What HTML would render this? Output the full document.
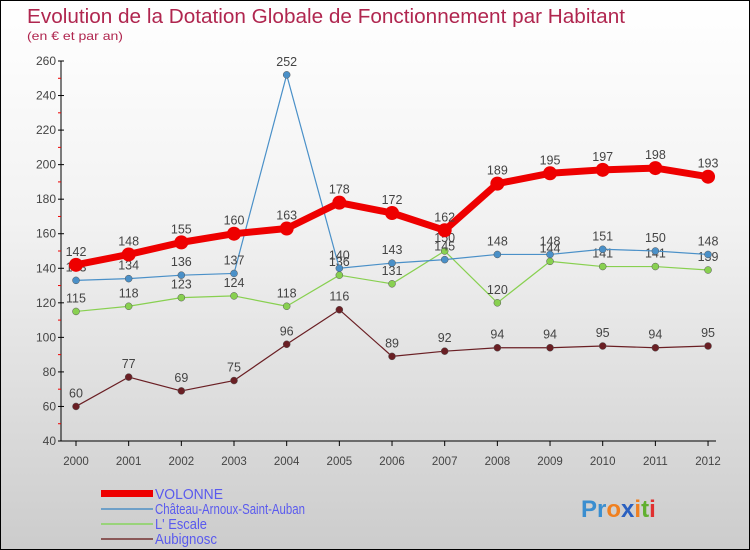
<!DOCTYPE html>
<html><head><meta charset="utf-8"><style>
body{margin:0}
#c{width:748px;height:548px;border:1px solid #000;background:linear-gradient(#fff,#f2f2f2 40%,#ccc);position:relative;overflow:hidden;font-family:"Liberation Sans",sans-serif}
</style></head><body>
<div id="c">
<svg id="s" width="748" height="548" style="position:absolute;left:0;top:0" font-family="Liberation Sans, sans-serif">
<text x="26" y="22" font-size="20" fill="#b0264f" textLength="598" lengthAdjust="spacingAndGlyphs">Evolution de la Dotation Globale de Fonctionnement par Habitant</text>
<text x="26" y="39" font-size="12" fill="#b0264f" textLength="96" lengthAdjust="spacingAndGlyphs">(en € et par an)</text>
<g id="ax"></g><g id="ser"></g>
<g>
<rect x="100" y="489" width="52" height="7" fill="#e00"/>
<line x1="100" y1="508" x2="152" y2="508" stroke="#6fa0c8" stroke-width="2"/>
<line x1="100" y1="523" x2="152" y2="523" stroke="#99d37a" stroke-width="2"/>
<line x1="100" y1="538" x2="152" y2="538" stroke="#8a5858" stroke-width="2"/>
<text x="154" y="498" font-size="15" fill="#5a5aee" textLength="68" lengthAdjust="spacingAndGlyphs">VOLONNE</text>
<text x="154" y="513" font-size="15" fill="#5a5aee" textLength="150" lengthAdjust="spacingAndGlyphs">Château-Arnoux-Saint-Auban</text>
<text x="154" y="528" font-size="15" fill="#5a5aee" textLength="52" lengthAdjust="spacingAndGlyphs">L' Escale</text>
<text x="154" y="543" font-size="15" fill="#5a5aee" textLength="62" lengthAdjust="spacingAndGlyphs">Aubignosc</text>
</g>
<text x="580" y="516" font-size="24" font-weight="bold"><tspan fill="#3a8ed0">Pr</tspan><tspan fill="#f08020">o</tspan><tspan fill="#2a60c0">x</tspan><tspan fill="#f08020">i</tspan><tspan fill="#60b030">t</tspan><tspan fill="#e03030">i</tspan></text>
</svg>
</div>
<script>
const years=[2000,2001,2002,2003,2004,2005,2006,2007,2008,2009,2010,2011,2012];
const volonne=[142,148,155,160,163,178,172,162,189,195,197,198,193];
const chateau=[133,134,136,137,252,140,143,145,148,148,151,150,148];
const escale=[115,118,123,124,118,136,131,150,120,144,141,141,139];
const aubignosc=[60,77,69,75,96,116,89,92,94,94,95,94,95];
const yTicks=[40,60,80,100,120,140,160,180,200,220,240,260];
const NS='http://www.w3.org/2000/svg';
const X=i=>75+i*52.67, Y=v=>440-(v-40)*380/220;
function mk(p,t,a){const e=document.createElementNS(NS,t);for(const k in a)e.setAttribute(k,a[k]);p.appendChild(e);return e;}
const ax=document.getElementById('ax');
const yl=mk(ax,'line',{x1:60,y1:60,x2:60,y2:440,stroke:'#000'});


const xl=mk(ax,'line',{x1:60,y1:440,x2:715,y2:440,stroke:'#000'});


yTicks.forEach(v=>{
 mk(ax,'line',{x1:57,y1:Y(v),x2:63,y2:Y(v),stroke:'#000'});
 if(v<260)mk(ax,'line',{x1:57,y1:Y(v+10),x2:60,y2:Y(v+10),stroke:'#e00'});
 const t=mk(ax,'text',{x:55,y:Y(v)+4,'font-size':12,fill:'#444','text-anchor':'end'});t.textContent=v;
 
 
});
years.forEach((y,i)=>{
 mk(ax,'line',{x1:X(i),y1:440,x2:X(i),y2:445,stroke:'#000'});
 const t=mk(ax,'text',{x:X(i),y:464,'font-size':11.5,fill:'#444','text-anchor':'middle'});t.textContent=y;
 
 
});
const ser=document.getElementById('ser');
function draw(d,col,w,r,name){
 const g=mk(ser,'g',{});
 
 
 mk(g,'polyline',{points:d.map((v,i)=>X(i)+','+Y(v)).join(' '),fill:'none',stroke:col,'stroke-width':w,'stroke-linejoin':'round'});
 d.forEach((v,i)=>{
  const c=mk(g,'circle',{cx:X(i),cy:Y(v),r:r,fill:col,stroke:'#555','stroke-width':r>4?0:0.5});
  
  
  const t=mk(g,'text',{x:X(i),y:Y(v)-9,'font-size':12.5,fill:'#444','text-anchor':'middle'});t.textContent=v;
  
  
 });
}
draw(aubignosc,'#6a1f24',1.2,3.5,'aubignosc');
draw(escale,'#88d050',1.2,3.5,'escale');
draw(chateau,'#4a90c8',1.2,3.5,'chateau');
draw(volonne,'#ee0000',7,7,'volonne');
</script>
</body></html>
